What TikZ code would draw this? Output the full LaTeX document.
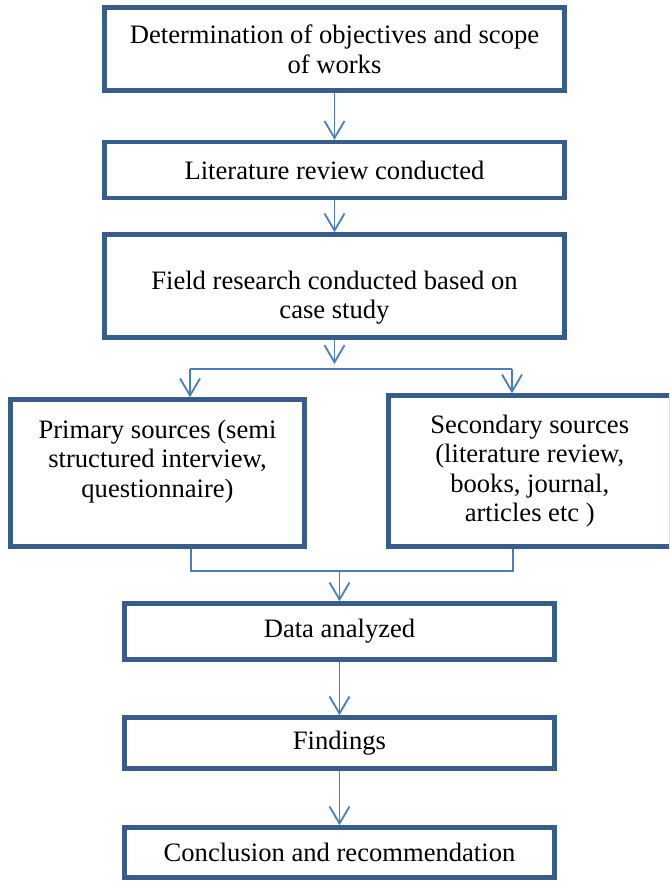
\documentclass[tikz,border=0pt]{standalone}
\usepackage{fontspec}
\setmainfont{Liberation Serif}
\usetikzlibrary{arrows.meta}
\definecolor{boxblue}{HTML}{385D8A}
\definecolor{lineblue}{HTML}{4A7EBB}
\tikzset{
  stage/.style={draw=boxblue, line width=2.25pt, rectangle, align=center,
    inner sep=0pt, font=\fontsize{13.3}{14.8}\selectfont},
  flow/.style={draw=lineblue, line width=0.9pt,
    -{Straight Barb[length=8.5pt,width=10pt]}},
  link/.style={draw=lineblue, line width=0.9pt}
}
\begin{document}
\begin{tikzpicture}[x=0.5pt,y=-0.5pt]
  \useasboundingbox (0,0) rectangle (669,882);
  \clip (0,0) rectangle (669,882);
  \draw
    (334.5,49) node[stage, minimum width=230pt, minimum height=41.5pt] (objectives){Determination of objectives and scope\\of works}
    (334.5,170) node[stage, minimum width=230pt, minimum height=28pt] (review){Literature review conducted}
    (334.5,286) node[stage, minimum width=230pt, minimum height=51.5pt] (field){\rule{0pt}{21pt}Field research conducted based on\\case study}
    (157.5,473) node[stage, minimum width=147pt, minimum height=73.5pt] (primary){Primary sources (semi\\structured interview,\\questionnaire)\rule[-14.5pt]{0pt}{14.5pt}}
    (529.75,471) node[stage, minimum width=141.25pt, minimum height=75.5pt] (secondary){Secondary sources\\(literature review,\\books, journal,\\articles etc )}
    (339.5,631.5) node[stage, minimum width=215pt, minimum height=28pt] (data){Data analyzed}
    (339.5,743) node[stage, minimum width=215pt, minimum height=25.5pt] (findings){Findings}
    (339.5,852.5) node[stage, minimum width=215pt, minimum height=25pt] (conclusion){Conclusion and recommendation};
  \coordinate (forkin) at (334.5,364);
  \coordinate (forkL) at (190,369);
  \coordinate (forkR) at (512,369);
  \coordinate (joinL) at (191,571);
  \coordinate (joinR) at (513,571);
  \begin{scope}[flow]
    \draw (objectives) to (review);
    \draw (review) to (field);
    \draw (field) to (forkin);
    \draw (forkL) to (forkL |- primary.north);
    \draw (forkR) to (forkR |- secondary.north);
    \draw (joinL -| data.north) to (data);
    \draw (data) to (findings);
    \draw (findings) to (conclusion);
  \end{scope}
  \begin{scope}[link]
    \draw (forkL) to (forkR);
    \draw (joinL |- primary.south) to (joinL) to (joinR) to (joinR |- secondary.south);
  \end{scope}
\end{tikzpicture}
\end{document}
